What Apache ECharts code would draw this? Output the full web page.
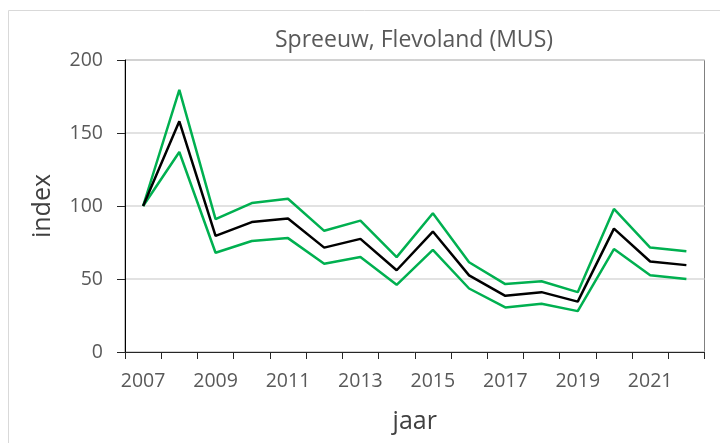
<!DOCTYPE html>
<html>
<head>
<meta charset="utf-8">
<script src="https://cdn.jsdelivr.net/npm/echarts@6/dist/echarts.min.js"></script>
<style>
  html, body { margin: 0; padding: 0; background: #fff; }
  #chart { width: 720px; height: 443px; }
</style>
</head>
<body>
<div id="chart"></div>
<script>
// jaren
var years = ['2007','2008','2009','2010','2011','2012','2013','2014','2015','2016','2017','2018','2019','2020','2021','2022'];
// index (zwart) en betrouwbaarheidsgrenzen (groen)
var indexVals = [100, 158, 79.5, 89, 91.5, 71.5, 77.5, 56, 82.5, 52.5, 38.5, 41, 34.5, 84.5, 62, 59.5];
var upperVals = [100, 179.5, 91, 102, 105, 83, 90, 65, 95, 61.5, 46.5, 48.5, 41, 98, 71.5, 69];
var lowerVals = [100, 137, 68, 76, 78, 60.5, 65, 46, 70, 43.5, 30.5, 33, 28, 70.5, 52.5, 50];
var yTicks = [0, 50, 100, 150, 200];

var font = '"Open Sans", "Liberation Sans", sans-serif';
var txt = '#595959';

var chart = echarts.init(document.getElementById('chart'));

function line(name, data, color) {
    return {
        name: name,
        type: 'line',
        data: data,
        symbol: 'none',
        lineStyle: { color: color, width: 2.5 },
        itemStyle: { color: color },
        z: name == 'index' ? 4 : 3
    };
}

chart.setOption({
    animation: false,
    title: {
        text: 'Spreeuw, Flevoland (MUS)',
        left: 409,
        top: 24,
        textAlign: 'center',
        textStyle: { fontFamily: font, fontSize: 23, fontWeight: 'normal', color: txt }
    },
    graphic: [{
        type: 'rect',
        shape: { x: 8.5, y: 10.5, width: 730, height: 450 },
        style: { fill: 'none', stroke: '#d9d9d9', lineWidth: 1 },
        silent: true
    }],
    grid: {
        left: 125, right: 15.5, top: 60, bottom: 91,
        show: true, borderColor: '#808080', borderWidth: 1
    },
    xAxis: {
        type: 'category',
        data: years,
        boundaryGap: true,
        name: 'jaar',
        nameLocation: 'middle',
        nameGap: 57,
        nameTextStyle: { fontFamily: font, fontSize: 25, color: '#404040' },
        axisLine: { lineStyle: { color: '#262626', width: 1 } },
        axisTick: { show: true, interval: 0, length: 7, lineStyle: { color: '#262626' } },
        axisLabel: {
            interval: 1, margin: 19, color: txt, fontFamily: font, fontSize: 19.5
        },
        splitLine: { show: false }
    },
    yAxis: {
        type: 'value',
        min: 0, max: 200, interval: 50,
        name: 'index',
        nameLocation: 'middle',
        nameGap: 70,
        nameRotate: 90,
        nameTextStyle: { fontFamily: font, fontSize: 25, color: '#404040' },
        axisLine: { show: true, lineStyle: { color: '#000000', width: 1 } },
        axisTick: { show: true, length: 8, lineStyle: { color: '#262626' } },
        axisLabel: {
            margin: 22, color: txt, fontFamily: font, fontSize: 19.5,
            formatter: function (v) { return yTicks.indexOf(v) >= 0 ? String(v) : ''; }
        },
        splitLine: { show: true, lineStyle: { color: '#d9d9d9', width: 1.5 } }
    },
    series: [
        line('bovengrens', upperVals, '#00b050'),
        line('ondergrens', lowerVals, '#00b050'),
        line('index', indexVals, '#000000')
    ]
});
</script>
</body>
</html>
